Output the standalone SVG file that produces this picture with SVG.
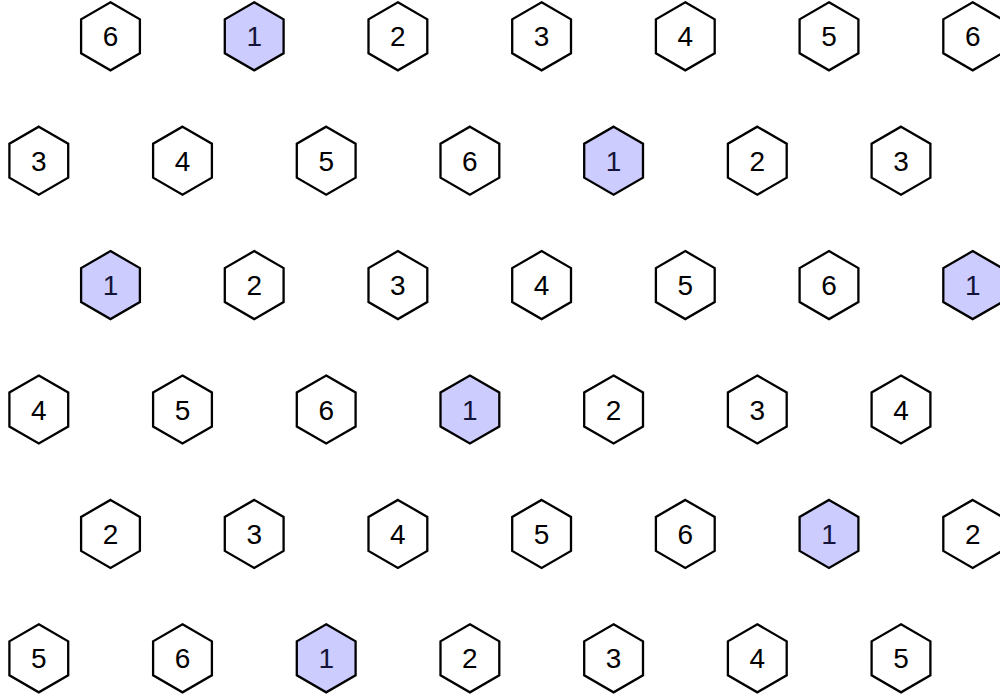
<svg xmlns="http://www.w3.org/2000/svg" width="1000" height="695" viewBox="0 0 1000 695">
<style>
.h{fill:#ffffff;stroke:#000;stroke-width:2.3;stroke-linejoin:miter}
.hl{fill:#ccccff;stroke:#000;stroke-width:2.3;stroke-linejoin:miter}
text{font-family:"Liberation Sans",Arial,sans-serif;font-size:28px;text-anchor:middle;fill:#000}
text.t1{fill:#141438}
</style>
<defs>
<polygon id="hex" points="0,-34 29.4,-17 29.4,17 0,34 -29.4,17 -29.4,-17"/>
</defs>
<rect width="1000" height="695" fill="#fff"/>
<g id="connectors"/>
<!-- row 0 -->
<g id="n0_0" transform="translate(110.5,36.3)"><use href="#hex" class="h"/><text y="10">6</text></g>
<g id="n0_1" transform="translate(254.2,36.3)"><use href="#hex" class="hl"/><text class="t1" y="10">1</text></g>
<g id="n0_2" transform="translate(397.9,36.3)"><use href="#hex" class="h"/><text y="10">2</text></g>
<g id="n0_3" transform="translate(541.6,36.3)"><use href="#hex" class="h"/><text y="10">3</text></g>
<g id="n0_4" transform="translate(685.3,36.3)"><use href="#hex" class="h"/><text y="10">4</text></g>
<g id="n0_5" transform="translate(829.0,36.3)"><use href="#hex" class="h"/><text y="10">5</text></g>
<g id="n0_6" transform="translate(972.7,36.3)"><use href="#hex" class="h"/><text y="10">6</text></g>
<!-- row 1 -->
<g id="n1_0" transform="translate(38.8,160.7)"><use href="#hex" class="h"/><text y="10">3</text></g>
<g id="n1_1" transform="translate(182.5,160.7)"><use href="#hex" class="h"/><text y="10">4</text></g>
<g id="n1_2" transform="translate(326.2,160.7)"><use href="#hex" class="h"/><text y="10">5</text></g>
<g id="n1_3" transform="translate(469.9,160.7)"><use href="#hex" class="h"/><text y="10">6</text></g>
<g id="n1_4" transform="translate(613.6,160.7)"><use href="#hex" class="hl"/><text class="t1" y="10">1</text></g>
<g id="n1_5" transform="translate(757.3,160.7)"><use href="#hex" class="h"/><text y="10">2</text></g>
<g id="n1_6" transform="translate(901.0,160.7)"><use href="#hex" class="h"/><text y="10">3</text></g>
<!-- row 2 -->
<g id="n2_0" transform="translate(110.5,285.1)"><use href="#hex" class="hl"/><text class="t1" y="10">1</text></g>
<g id="n2_1" transform="translate(254.2,285.1)"><use href="#hex" class="h"/><text y="10">2</text></g>
<g id="n2_2" transform="translate(397.9,285.1)"><use href="#hex" class="h"/><text y="10">3</text></g>
<g id="n2_3" transform="translate(541.6,285.1)"><use href="#hex" class="h"/><text y="10">4</text></g>
<g id="n2_4" transform="translate(685.3,285.1)"><use href="#hex" class="h"/><text y="10">5</text></g>
<g id="n2_5" transform="translate(829.0,285.1)"><use href="#hex" class="h"/><text y="10">6</text></g>
<g id="n2_6" transform="translate(972.7,285.1)"><use href="#hex" class="hl"/><text class="t1" y="10">1</text></g>
<!-- row 3 -->
<g id="n3_0" transform="translate(38.8,409.5)"><use href="#hex" class="h"/><text y="10">4</text></g>
<g id="n3_1" transform="translate(182.5,409.5)"><use href="#hex" class="h"/><text y="10">5</text></g>
<g id="n3_2" transform="translate(326.2,409.5)"><use href="#hex" class="h"/><text y="10">6</text></g>
<g id="n3_3" transform="translate(469.9,409.5)"><use href="#hex" class="hl"/><text class="t1" y="10">1</text></g>
<g id="n3_4" transform="translate(613.6,409.5)"><use href="#hex" class="h"/><text y="10">2</text></g>
<g id="n3_5" transform="translate(757.3,409.5)"><use href="#hex" class="h"/><text y="10">3</text></g>
<g id="n3_6" transform="translate(901.0,409.5)"><use href="#hex" class="h"/><text y="10">4</text></g>
<!-- row 4 -->
<g id="n4_0" transform="translate(110.5,533.9)"><use href="#hex" class="h"/><text y="10">2</text></g>
<g id="n4_1" transform="translate(254.2,533.9)"><use href="#hex" class="h"/><text y="10">3</text></g>
<g id="n4_2" transform="translate(397.9,533.9)"><use href="#hex" class="h"/><text y="10">4</text></g>
<g id="n4_3" transform="translate(541.6,533.9)"><use href="#hex" class="h"/><text y="10">5</text></g>
<g id="n4_4" transform="translate(685.3,533.9)"><use href="#hex" class="h"/><text y="10">6</text></g>
<g id="n4_5" transform="translate(829.0,533.9)"><use href="#hex" class="hl"/><text class="t1" y="10">1</text></g>
<g id="n4_6" transform="translate(972.7,533.9)"><use href="#hex" class="h"/><text y="10">2</text></g>
<!-- row 5 -->
<g id="n5_0" transform="translate(38.8,658.3)"><use href="#hex" class="h"/><text y="10">5</text></g>
<g id="n5_1" transform="translate(182.5,658.3)"><use href="#hex" class="h"/><text y="10">6</text></g>
<g id="n5_2" transform="translate(326.2,658.3)"><use href="#hex" class="hl"/><text class="t1" y="10">1</text></g>
<g id="n5_3" transform="translate(469.9,658.3)"><use href="#hex" class="h"/><text y="10">2</text></g>
<g id="n5_4" transform="translate(613.6,658.3)"><use href="#hex" class="h"/><text y="10">3</text></g>
<g id="n5_5" transform="translate(757.3,658.3)"><use href="#hex" class="h"/><text y="10">4</text></g>
<g id="n5_6" transform="translate(901.0,658.3)"><use href="#hex" class="h"/><text y="10">5</text></g>
</svg>
